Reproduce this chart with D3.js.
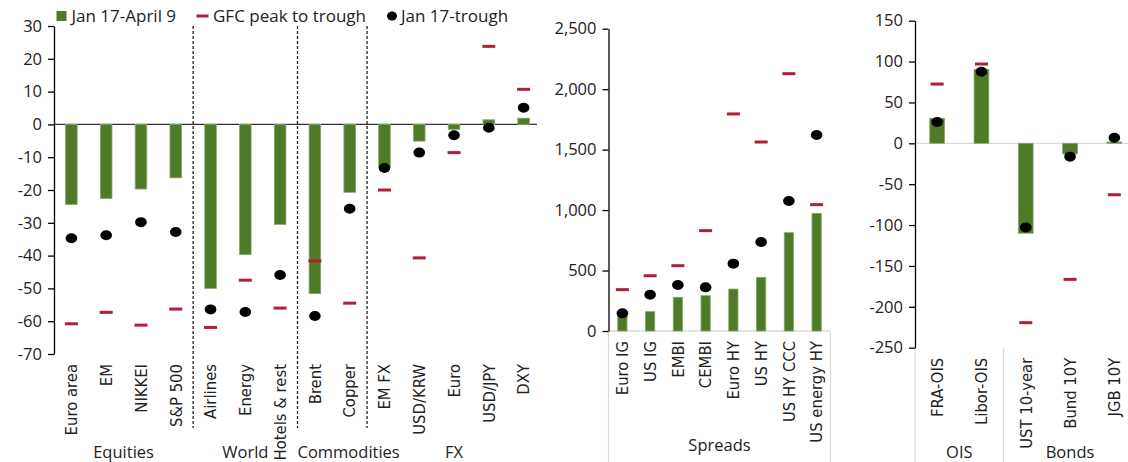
<!DOCTYPE html>
<html>
<head>
<meta charset="utf-8">
<script src="https://cdn.jsdelivr.net/npm/d3@7"></script>
<style>
  body { margin: 0; background: #fff; }
  text { font-family: 'Open Sans', sans-serif; fill: #222; }
  .cat { font-family: 'Liberation Sans Narrow', 'DejaVu Sans Condensed', sans-serif; font-stretch: condensed; font-size: 16.5px; }
  .tick text { font-size: 16.5px; }
</style>
</head>
<body>
<svg id="chart" width="1128" height="462"></svg>
<script>
// left panel: % change
const leftCats = ['Euro area', 'EM', 'NIKKEI', 'S&P 500', 'Airlines', 'Energy', 'Hotels & rest',
  'Brent', 'Copper', 'EM FX', 'USD/KRW', 'Euro', 'USD/JPY', 'DXY'];
const leftBars = [-24.4, -22.6, -19.7, -16.3, -50.0, -39.7, -30.5, -51.6, -20.7, -13.0, -5.1, -1.5, 1.4, 1.9];
const leftGfc = [-60.8, -57.3, -61.2, -56.3, -61.9, -47.5, -56.0, -41.6, -54.5, -20.0, -40.7, -8.6, 23.8, 10.7];
const leftTrough = [-34.7, -33.8, -29.8, -32.8, -56.4, -57.2, -45.9, -58.4, -25.7, -13.3, -8.6, -3.3, -1.0, 5.1];
const leftGroups = ['Equities', 'World', 'Commodities', 'FX'];
const leftGroupSizes = [4, 3, 2, 5];
const leftTicks = [30, 20, 10, 0, -10, -20, -30, -40, -50, -60, -70];

// middle panel: spreads, bp
const midCats = ['Euro IG', 'US IG', 'EMBI', 'CEMBI', 'Euro HY', 'US HY', 'US HY CCC', 'US energy HY'];
const midBars = [120, 160, 279, 292, 347, 444, 813, 973];
const midGfc = [342, 457, 540, 830, 1795, 1563, 2128, 1045];
const midTrough = [146, 300, 380, 361, 557, 736, 1075, 1621];
const midGroups = ['Spreads'];
const midGroupSizes = [8];
const midTicks = [0, 500, 1000, 1500, 2000, 2500];

// right panel: bp
const rightCats = ['FRA-OIS', 'Libor-OIS', 'UST 10-year', 'Bund 10Y', 'JGB 10Y'];
const rightBars = [30.6, 90.5, -110, -13, 1.6];
const rightGfc = [72.5, 97, -219.4, -166.4, -62.9];
const rightTrough = [26, 87.6, -103, -16.3, 6.9];
const rightGroups = ['OIS', 'Bonds'];
const rightGroupSizes = [2, 3];
const rightTicks = [150, 100, 50, 0, -50, -100, -150, -200, -250];

const GREEN = '#4f7a28', RED = '#b11e35', GRID = '#d9d9d9';
const svg = d3.select('#chart');

function drawPanel(p) {
  const g = svg.append('g');
  const x = d3.scaleBand().domain(p.cats).range([p.x0, p.x1]);
  const y = d3.scaleLinear().domain(d3.extent(p.ticks)).range([p.yBot, p.yTop]);
  const bw = x.bandwidth();

  // frame lines below the plot
  if (p.frame) {
    let idx = 0;
    const edges = [p.x0];
    p.groupSizes.forEach(n => { idx += n; edges.push(idx < p.cats.length ? x(p.cats[idx]) : p.x1); });
    (p.frameInner ? edges.slice(0, -1) : edges).forEach(ex => {
      g.append('line').attr('x1', ex).attr('x2', ex).attr('y1', p.yBot).attr('y2', 462)
        .attr('stroke', GRID).attr('stroke-width', 1.2);
    });
  }

  // zero line
  g.append('line')
    .attr('x1', p.x0).attr('x2', p.zeroEnd || p.x1)
    .attr('y1', y(0)).attr('y2', y(0))
    .attr('stroke', p.zeroColor).attr('stroke-width', 1.3);

  // separators
  if (p.dashed) {
    let idx = 0;
    p.groupSizes.slice(0, -1).forEach(n => {
      idx += n;
      const sx = x(p.cats[idx]);
      g.append('line').attr('x1', sx).attr('x2', sx).attr('y1', p.yTop).attr('y2', 428)
        .attr('stroke', '#222').attr('stroke-width', 1.3).attr('stroke-dasharray', '3,2');
    });
  }

  g.selectAll('rect.bar').data(p.bars).join('rect')
    .attr('class', 'bar')
    .attr('x', (d, i) => x(p.cats[i]) + bw / 3)
    .attr('width', bw / 3)
    .attr('y', d => y(Math.max(0, d)))
    .attr('height', d => Math.abs(y(d) - y(0)))
    .attr('fill', GREEN).attr('stroke', '#86a96a').attr('stroke-width', 0.8);

  g.selectAll('rect.gfc').data(p.gfc).join('rect')
    .attr('class', 'gfc')
    .attr('x', (d, i) => x(p.cats[i]) + bw / 2 - 6.5)
    .attr('width', 13)
    .attr('y', d => y(d) - 1.5)
    .attr('height', 3)
    .attr('fill', RED);

  g.selectAll('ellipse').data(p.trough).join('ellipse')
    .attr('cx', (d, i) => x(p.cats[i]) + bw / 2)
    .attr('cy', d => y(d))
    .attr('rx', 5.8).attr('ry', 5)
    .attr('fill', '#000');

  const axis = g.append('g')
    .attr('transform', `translate(${p.x0},0)`)
    .call(d3.axisLeft(y).tickValues(p.ticks).tickSize(6).tickSizeOuter(0).tickPadding(6)
      .tickFormat(p.fmt));
  axis.select('.domain').attr('stroke', '#000').attr('stroke-width', 1.3);
  axis.selectAll('.tick line').attr('stroke', '#000').attr('stroke-width', 1.3);
  axis.selectAll('.tick text').attr('fill', '#222').style('font-family', "'Open Sans', sans-serif");

  g.selectAll('text.cat').data(p.cats).join('text')
    .attr('class', 'cat')
    .attr('transform', d => `translate(${x(d) + bw / 2},${p.yBot + 10}) rotate(-90)`)
    .attr('text-anchor', 'end')
    .attr('dy', '0.35em')
    .text(d => d);

  let start = 0;
  p.groups.forEach((name, i) => {
    const gx0 = x(p.cats[start]);
    const gx1 = x(p.cats[start + p.groupSizes[i] - 1]) + bw;
    start += p.groupSizes[i];
    const t = g.append('text')
      .attr('x', (gx0 + gx1) / 2).attr('y', p.groupY)
      .attr('text-anchor', 'middle').attr('dy', '0.35em')
      .style('font-size', '16.5px')
      .text(name);
    if (t.node().getComputedTextLength() > gx1 - gx0) {
      t.attr('x', gx0).attr('text-anchor', 'start');
    }
  });
}

drawPanel({
  cats: leftCats, bars: leftBars, gfc: leftGfc, trough: leftTrough,
  groups: leftGroups, groupSizes: leftGroupSizes, ticks: leftTicks,
  x0: 54, x1: 541, yTop: 26, yBot: 354, zeroColor: '#333', zeroEnd: 537,
  fmt: d => String(d), dashed: true, groupY: 452
});

drawPanel({
  cats: midCats, bars: midBars, gfc: midGfc, trough: midTrough,
  groups: midGroups, groupSizes: midGroupSizes, ticks: midTicks,
  x0: 608.5, x1: 830.5, yTop: 28.7, yBot: 331, zeroColor: GRID,
  fmt: d3.format(','), frame: true, groupY: 445
});

drawPanel({
  cats: rightCats, bars: rightBars, gfc: rightGfc, trough: rightTrough,
  groups: rightGroups, groupSizes: rightGroupSizes, ticks: rightTicks,
  x0: 915, x1: 1136.5, yTop: 20.7, yBot: 347.7, zeroColor: GRID,
  fmt: d => String(d), frame: true, frameInner: true, groupY: 452
});

// legend
const legend = svg.append('g').attr('transform', 'translate(0,16)');
legend.append('rect').attr('x', 56.5).attr('y', -5).attr('width', 10).attr('height', 10).attr('fill', GREEN);
legend.append('text').attr('x', 71.5).attr('dy', '0.35em').style('font-size', '17px').text('Jan 17-April 9');
legend.append('rect').attr('x', 196.5).attr('y', -1.5).attr('width', 12).attr('height', 3).attr('fill', RED);
legend.append('text').attr('x', 213).attr('dy', '0.35em').style('font-size', '17px').text('GFC peak to trough');
legend.append('ellipse').attr('cx', 392).attr('cy', 0).attr('rx', 5).attr('ry', 4.5).attr('fill', '#000');
legend.append('text').attr('x', 401).attr('dy', '0.35em').style('font-size', '17px').text('Jan 17-trough');
</script>
</body>
</html>
